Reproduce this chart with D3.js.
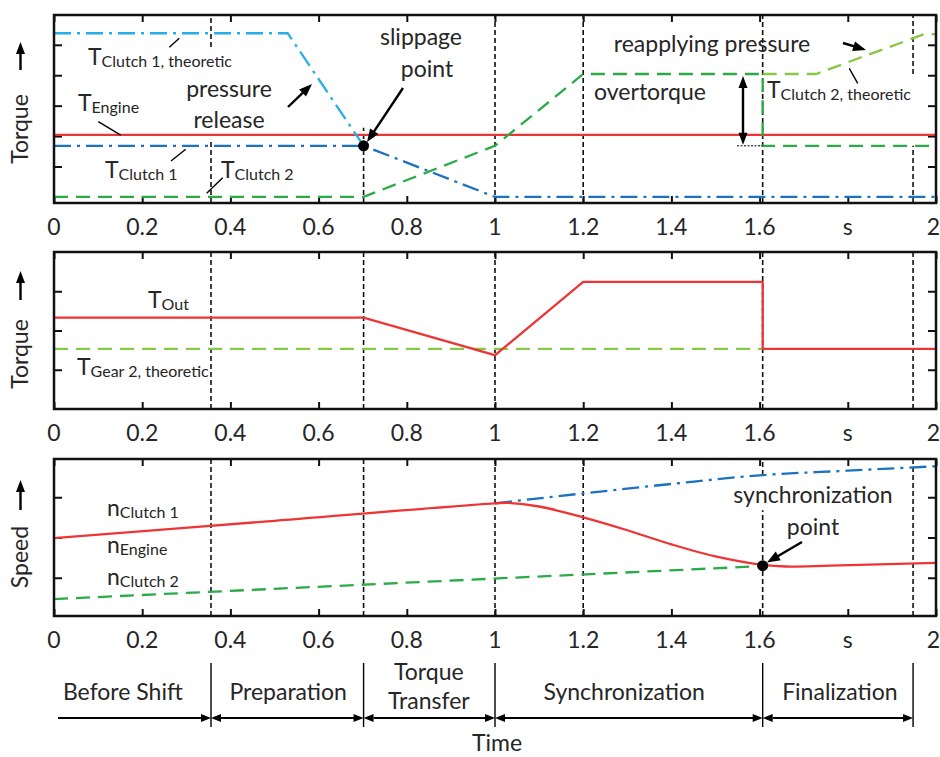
<!DOCTYPE html>
<html><head><meta charset="utf-8">
<script src="https://cdn.jsdelivr.net/npm/d3@7"></script>
<style>
body{margin:0;background:#fff}
svg{display:block}
text{font-family:Lato,"Open Sans",sans-serif;fill:#262626}
</style>
</head><body>
<svg id="c" width="940" height="757"></svg>
<script>
// ---------------- data ----------------
const xTicks = [0, 0.2, 0.4, 0.6, 0.8, 1, 1.2, 1.4, 1.6, 1.8, 2];
const xTickLabels = ["0", "0.2", "0.4", "0.6", "0.8", "1", "1.2", "1.4", "1.6", "s", "2"];
const phaseBounds = [0.356, 0.702, 1.0, 1.607, 1.948];
const phaseNames = [["Before Shift"], ["Preparation"], ["Torque", "Transfer"], ["Synchronization"], ["Finalization"]];
const phaseLabelT = [0.156, 0.531, 0.85, 1.293, 1.782];

// top panel (torque, clutches)
const tClutch1Theo = [[0, 4.38], [0.53, 4.38], [0.702, 0.68]];
const tEngine = [[0, 1.04], [2, 1.04]];
const tClutch1 = [[0, 0.68], [0.702, 0.68], [1.0, -1.0], [2, -1.0]];
const tClutch2 = [[0, -1.0], [0.702, -1.0], [1.0, 0.68], [1.2, 3.04], [1.607, 3.04], [1.607, 0.68], [2, 0.68]];
const tClutch2Theo = [[1.607, 3.04], [1.728, 3.04], [1.973, 4.35], [2, 4.35]];
const slippagePoint = [0.702, 0.68];
const topYTicks = [0, 1, 2, 3, 4];
// guide segments per boundary (value ranges)
const topGuides = [[0.356, -1.2, 0.87], [0.356, 3.93, 4.98], [0.702, -1.2, 1.27], [1.0, -1.2, 4.98], [1.2, -1.2, 4.98], [1.607, -1.2, 4.98], [1.948, -1.2, 0.68], [1.948, 3.04, 4.98]];

// middle panel (output torque)
const tOut = [[0, 2.33], [0.702, 2.33], [1.0, 1.37], [1.2, 3.24], [1.607, 3.24], [1.607, 1.53], [2, 1.53]];
const tGear2Theo = [[0, 1.53], [1.607, 1.53]];
const midYTicks = [1, 2, 3];

// bottom panel (speeds)
const nEngine = [[0, 1.985], [0.5, 2.415], [1.0, 2.85], [1.03, 2.86], [1.1, 2.77], [1.2, 2.50], [1.3, 2.18], [1.4, 1.83], [1.5, 1.53], [1.607, 1.32], [1.66, 1.28], [1.76, 1.30], [2.0, 1.37]];
const nClutch1 = [[1.0, 2.85], [1.2, 3.095], [1.4, 3.33], [1.607, 3.55], [1.8, 3.66], [2.0, 3.77]];
const nClutch2 = [[0, 0.47], [1.607, 1.29]];
const syncPoint = [1.607, 1.30];
const botYTicks = [1, 2, 3];
const botGuides = [[0.356, 0.05, 3.95], [0.702, 0.05, 3.95], [1.0, 0.05, 3.95], [1.2, 0.05, 3.95], [1.607, 0.05, 2.68], [1.607, 3.55, 3.95], [1.948, 0.05, 3.95]];

// ---------------- drawing ----------------
const svg = d3.select("#c");
const X0 = 54, X1 = 936;
const x = d3.scaleLinear().domain([0, 2]).range([X0, X1]);

const RED = "#ee3535", BLUE = "#1b72bf", LBLUE = "#2aaee6", GREEN = "#2aab48", LGREEN = "#86c944", INK = "#262626";
const DASHDOT = "17,6,3,6", DASH = "14,8";

function panel(top, bottom, domain, yTicks) {
  const y = d3.scaleLinear().domain(domain).range([bottom, top]);
  const g = svg.append("g");
  g.append("g").attr("transform", `translate(0,${bottom})`).call(d3.axisBottom(x).tickValues(xTicks).tickSize(-7).tickFormat(""));
  g.append("g").attr("transform", `translate(0,${top})`).call(d3.axisTop(x).tickValues(xTicks).tickSize(-7).tickFormat(""));
  g.append("g").attr("transform", `translate(${X0},0)`).call(d3.axisLeft(y).tickValues(yTicks).tickSize(-8).tickFormat(""));
  g.append("g").attr("transform", `translate(${X1},0)`).call(d3.axisRight(y).tickValues(yTicks).tickSize(-8).tickFormat(""));
  g.selectAll(".domain").remove();
  g.selectAll(".tick line").attr("stroke", "#111").attr("stroke-width", 2);
  g.selectAll("text.xl").data(xTicks).join("text").attr("class", "xl")
    .attr("x", (d, i) => i === xTicks.length - 1 ? 940 : x(d)).attr("y", bottom + 32)
    .attr("text-anchor", (d, i) => i === xTicks.length - 1 ? "end" : "middle")
    .style("font-size", "23px").text((d, i) => xTickLabels[i]);
  const body = svg.append("g");
  return {y, g, body, top, bottom};
}

function lineOf(p, data, color, dash, w = 2.3, curve = d3.curveLinear) {
  p.body.append("path").datum(data)
    .attr("d", d3.line().x(d => x(d[0])).y(d => p.y(d[1])).curve(curve))
    .attr("fill", "none").attr("stroke", color).attr("stroke-width", w)
    .attr("stroke-dasharray", dash || null);
}
function guides(p, segs) {
  p.body.selectAll(null).data(segs).join("line")
    .attr("x1", d => x(d[0])).attr("x2", d => x(d[0]))
    .attr("y1", d => p.y(d[1])).attr("y2", d => p.y(d[2]))
    .attr("stroke", "#111").attr("stroke-width", 1.6).attr("stroke-dasharray", "5,3");
}
function frame(p) {
  svg.append("rect").attr("x", X0).attr("y", p.top).attr("width", X1 - X0).attr("height", p.bottom - p.top)
    .attr("fill", "none").attr("stroke", "#111").attr("stroke-width", 2.5);
}
function head(x1, y1, x2, y2, len = 13, wid = 10) {
  const a = Math.atan2(y2 - y1, x2 - x1);
  const bx = x2 - len * Math.cos(a), by = y2 - len * Math.sin(a);
  const nx = -Math.sin(a) * wid / 2, ny = Math.cos(a) * wid / 2;
  svg.append("path").attr("d", `M${x2},${y2}L${bx + nx},${by + ny}L${bx - nx},${by - ny}Z`).attr("fill", "#000");
  return [bx, by];
}
function arrow(x1, y1, x2, y2, opts = {}) {
  const len = opts.len || 13, wid = opts.wid || 10;
  let sx = x1, sy = y1, ex, ey;
  [ex, ey] = head(x1, y1, x2, y2, len, wid);
  if (opts.both) [sx, sy] = head(x2, y2, x1, y1, len, wid);
  svg.append("line").attr("x1", sx).attr("y1", sy).attr("x2", ex + (x2 - ex) * 0.2).attr("y2", ey + (y2 - ey) * 0.2)
    .attr("stroke", "#000").attr("stroke-width", opts.w || 2.4);
}
function leader(x1, y1, x2, y2) {
  svg.append("line").attr("x1", x1).attr("y1", y1).attr("x2", x2).attr("y2", y2).attr("stroke", "#000").attr("stroke-width", 1.4);
}
function subLabel(xp, yp, main, sub) {
  const t = svg.append("text").attr("x", xp).attr("y", yp).style("font-size", "23px");
  t.append("tspan").text(main);
  t.append("tspan").attr("dy", 2).style("font-size", "16px").text(sub);
}
function label(xp, yp, s, anchor = "middle", size = 23) {
  svg.append("text").attr("x", xp).attr("y", yp).attr("text-anchor", anchor).style("font-size", size + "px").text(s);
}
function yTitle(cy, s, arrowFrom, arrowTo) {
  svg.append("text").attr("transform", `translate(28,${cy}) rotate(-90)`).attr("text-anchor", "middle")
    .style("font-size", "23px").text(s);
  arrow(20.5, arrowFrom, 20.5, arrowTo, {len: 12, wid: 9, w: 2.4});
}

// ---- top panel ----
const P1 = panel(15, 203, [-1.2, 4.98], topYTicks);
guides(P1, topGuides);
lineOf(P1, tEngine, RED, null);
lineOf(P1, tClutch1Theo, LBLUE, DASHDOT);
lineOf(P1, tClutch1, BLUE, DASHDOT);
lineOf(P1, tClutch2, GREEN, DASH);
lineOf(P1, tClutch2Theo, LGREEN, DASH);
frame(P1);
svg.append("circle").attr("cx", x(slippagePoint[0])).attr("cy", P1.y(slippagePoint[1])).attr("r", 5.5).attr("fill", "#000");
// overtorque
svg.append("line").attr("x1", 737).attr("x2", x(1.607)).attr("y1", P1.y(0.68)).attr("y2", P1.y(0.68))
  .attr("stroke", "#000").attr("stroke-width", 1).attr("stroke-dasharray", "2,1.5");
arrow(743, P1.y(3.04) + 2, 743, P1.y(0.68) - 1, {both: true, len: 12, wid: 9});

subLabel(88, 65, "T", "Clutch 1, theoretic");
leader(169.3, 47.3, 179.3, 38.3);
subLabel(78, 111, "T", "Engine");
leader(98.3, 121.7, 120.7, 135.2);
subLabel(105, 178, "T", "Clutch 1");
leader(171, 161, 185.7, 149.3);
subLabel(221, 178, "T", "Clutch 2");
leader(206.7, 193.3, 222.7, 177.7);
subLabel(767, 98, "T", "Clutch 2, theoretic");
leader(849.3, 68.3, 857.7, 83.3);
label(229, 97, "pressure");
label(229, 128, "release");
arrow(288, 107, 312, 84);
label(421, 45, "slippage");
label(427, 77, "point");
arrow(403, 88, 367, 142);
label(712, 52, "reapplying pressure");
arrow(843, 43, 866, 50);
label(650, 100, "overtorque");

// ---- middle panel ----
const P2 = panel(252, 409, [0, 4], midYTicks);
guides(P2, phaseBounds.map(t => [t, 0, 4]));
lineOf(P2, tGear2Theo, LGREEN, DASH);
lineOf(P2, tOut, RED, null);
frame(P2);
subLabel(148, 308, "T", "Out");
subLabel(77, 375, "T", "Gear 2, theoretic");

// ---- bottom panel ----
const P3 = panel(459, 616, [0.05, 3.95], botYTicks);
guides(P3, botGuides);
lineOf(P3, nClutch2, GREEN, DASH);
lineOf(P3, nClutch1, BLUE, DASHDOT, 2.3, d3.curveMonotoneX);
lineOf(P3, nEngine, RED, null, 2.3, d3.curveCatmullRom);
frame(P3);
svg.append("circle").attr("cx", x(syncPoint[0])).attr("cy", P3.y(syncPoint[1])).attr("r", 5.5).attr("fill", "#000");
subLabel(107, 516, "n", "Clutch 1");
subLabel(107, 553, "n", "Engine");
subLabel(107, 585, "n", "Clutch 2");
label(813, 503, "synchronization");
label(813, 535, "point");
arrow(802, 542, 767, 562.5);

// y titles
yTitle(129, "Torque", 70, 42);
yTitle(354, "Torque", 300, 271);
yTitle(557, "Speed", 510, 480);

// ---- phases ----
const ph = svg.append("g");
ph.selectAll("line.sep").data(phaseBounds).join("line").attr("class", "sep")
  .attr("x1", d => x(d)).attr("x2", d => x(d)).attr("y1", 663).attr("y2", 727)
  .attr("stroke", "#000").attr("stroke-width", 1.4);
const starts = [58].concat(phaseBounds.slice(0, -1).map(x));
phaseBounds.forEach((b, i) => {
  arrow(starts[i], 718, x(b), 718, {both: i > 0, len: 10, wid: 8, w: 1.8});
});
phaseNames.forEach((lines, i) => {
  const cx = x(phaseLabelT[i]);
  if (lines.length === 1) label(cx, 700, lines[0]);
  else { label(cx, 680, lines[0]); label(cx, 709, lines[1]); }
});
label(497, 751, "Time");
</script>
</body></html>
